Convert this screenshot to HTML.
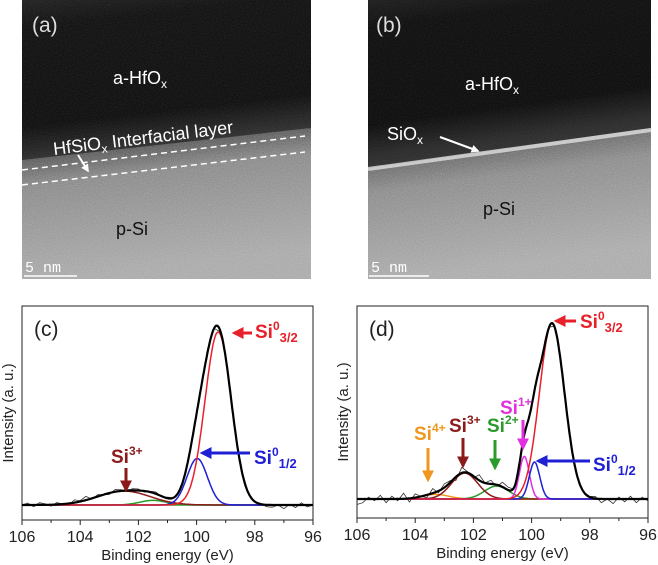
<!DOCTYPE html>
<html><head><meta charset="utf-8"><style>
html,body{margin:0;padding:0;background:#fff}
svg{display:block;font-family:"Liberation Sans",Arial,sans-serif}
</style></head><body>
<svg id="fig" width="658" height="565" viewBox="0 0 658 565" xmlns="http://www.w3.org/2000/svg">
<defs>
  <filter id="grain" x="0" y="0" width="100%" height="100%">
    <feTurbulence type="fractalNoise" baseFrequency="0.9" numOctaves="2" seed="3"/>
    <feColorMatrix type="matrix" values="0 0 0 0 1  0 0 0 0 1  0 0 0 0 1  0 0 0 0.7 -0.15"/>
  </filter>
  <linearGradient id="ga" x1="0" y1="0" x2="0.12" y2="1">
    <stop offset="0" stop-color="#3a3a3a"/><stop offset="0.1" stop-color="#141414"/>
    <stop offset="0.45" stop-color="#0e0e0e"/><stop offset="0.56" stop-color="#555"/>
    <stop offset="0.66" stop-color="#888"/><stop offset="1" stop-color="#a8a8a8"/>
  </linearGradient>
  <linearGradient id="gb" x1="0" y1="0" x2="0.14" y2="1">
    <stop offset="0" stop-color="#3a3a3a"/><stop offset="0.1" stop-color="#121212"/>
    <stop offset="0.44" stop-color="#0c0c0c"/><stop offset="0.55" stop-color="#5a5a5a"/>
    <stop offset="0.68" stop-color="#8a8a8a"/><stop offset="1" stop-color="#aaa"/>
  </linearGradient>
  <marker id="ah" viewBox="0 0 10 10" refX="8" refY="5" markerWidth="4" markerHeight="4" orient="auto"><path d="M0,0L10,5L0,10z" fill="context-stroke"/></marker>
</defs>

<g>
  <rect x="22" y="0" width="289" height="279" fill="url(#ga)"/>
  <rect x="22" y="0" width="289" height="279" filter="url(#grain)" opacity="0.45"/>
  <polygon points="22,0 311,0 311,128 22,160" fill="#0c0c0c" opacity="0.55"/>
  <line x1="22" y1="170" x2="305" y2="136" stroke="#fff" stroke-width="1.5" stroke-dasharray="6,4"/>
  <line x1="22" y1="185" x2="305" y2="152" stroke="#fff" stroke-width="1.5" stroke-dasharray="6,4"/>
  <text x="32" y="32" font-size="21" fill="#ddd">(a)</text>
  <text x="113" y="84" font-size="18" fill="#fff">a-HfO<tspan font-size="12" dy="4">x</tspan></text>
  <text x="54" y="155" font-size="18" fill="#fff" transform="rotate(-7 54 155)">HfSiO<tspan font-size="12" dy="4">x</tspan><tspan dy="-4"> Interfacial layer</tspan></text>
  <line x1="78" y1="155" x2="88" y2="171" stroke="#fff" stroke-width="2" marker-end="url(#ah)"/>
  <text x="116" y="235" font-size="18" fill="#111">p-Si</text>
  <text x="25" y="272" font-size="15" fill="#fff" font-family="Liberation Mono,monospace">5 nm</text>
  <line x1="24" y1="276" x2="77" y2="276" stroke="#fff" stroke-width="1.5"/>
</g>

<g>
  <rect x="368" y="0" width="283" height="279" fill="url(#gb)"/>
  <rect x="368" y="0" width="283" height="279" filter="url(#grain)" opacity="0.45"/>
  <polygon points="368,0 651,0 651,128 368,168" fill="#0b0b0b" opacity="0.6"/>
  <line x1="368" y1="169" x2="651" y2="130" stroke="#eee" stroke-width="4" opacity="0.7"/>
  <text x="376" y="32" font-size="21" fill="#ddd">(b)</text>
  <text x="465" y="90" font-size="18" fill="#fff">a-HfO<tspan font-size="12" dy="4">x</tspan></text>
  <text x="387" y="140" font-size="18" fill="#fff">SiO<tspan font-size="12" dy="4">x</tspan></text>
  <line x1="440" y1="137" x2="478" y2="151" stroke="#fff" stroke-width="2" marker-end="url(#ah)"/>
  <text x="483" y="215" font-size="18" fill="#111">p-Si</text>
  <text x="371" y="272" font-size="15" fill="#fff" font-family="Liberation Mono,monospace">5 nm</text>
  <line x1="369" y1="276" x2="429" y2="276" stroke="#fff" stroke-width="1.5"/>
</g>

<g id="pc"></g>
<g id="pd"></g>
</svg>
<script>
const tickLabels = [106, 104, 102, 100, 98, 96];
const cNames   = ["si0-3/2", "si0-1/2", "si3+", "si2+"];
const cCenters = [99.26, 99.98, 102.5, 101.5];
const cHeights = [0.93, 0.25, 0.075, 0.025];
const cWidths  = [0.45, 0.35, 0.9, 0.45];
const cColors  = ["#e8202a", "#1f1fd6", "#8b1a1a", "#2a9a2a"];
const cNoise = [0,.01,-.01,.012,.005,-.008,.01,.0,-.01,.015,.005,.02,-.005,.01,.0,-.008,.012,.006,-.004,.01,.008,-.006,.004,.01,-.004,.006,.0,-.008,.004,.0,.01,-.006,.008,.0,-.01,.02,-.01,.006,.01,-.004,.0,.004,-.01,-.012,.0,-.02,.004,-.014,.012,-.01,.0];
const dNames   = ["si0-3/2", "si0-1/2", "si1+", "si3+", "si2+", "si4+"];
const dCenters = [99.3, 99.9, 100.25, 102.3, 101.2, 103.3];
const dHeights = [0.95, 0.2, 0.23, 0.14, 0.07, 0.025];
const dWidths  = [0.43, 0.18, 0.17, 0.45, 0.42, 0.45];
const dColors  = ["#e8202a", "#1f1fd6", "#e030e0", "#8b1a1a", "#2a9a2a", "#f0961e"];
const dNoise = [-.03,-.02,.01,-.01,.02,-.02,.015,-.01,.03,-.02,.02,.0,-.015,.025,-.01,.02,.01,-.02,.03,.005,-.01,.03,.0,.02,-.01,.025,.015,-.01,.02,-.01,.0,.01,-.02,.0,.01,-.005,.01,-.01,.0,.0,.005,.01,-.02,.0,-.025,.01,-.015,.015,-.02,.01,-.01];

const NS = "http://www.w3.org/2000/svg";
function mk(p, tag, at) { const e = document.createElementNS(NS, tag); for (const k in at) e.setAttribute(k, at[k]); p.appendChild(e); return e; }
function gauss(x, c, h, w) { return h * Math.exp(-0.5 * ((x - c) / w) ** 2); }

function drawPanel(g, box, letter, centers, heights, widths, colors, names, noise) {
  const { x0, x1, top, bottom, base, scaleY } = box;
  const xS = e => x0 + (106 - e) / 10 * (x1 - x0);
  const yS = v => base - v * scaleY;
  const fr = mk(g, "rect", { x: x0, y: top, width: x1 - x0, height: bottom - top, fill: "none", stroke: "#222", "stroke-width": 1 });
  
  
  for (let e = 96; e <= 106; e += 1) {
    const t = mk(g, "line", { x1: xS(e), x2: xS(e), y1: bottom, y2: bottom + (e % 2 === 0 ? 5 : 3), stroke: "#222" });
    
    
  }
  tickLabels.forEach(v => {
    const t = mk(g, "text", { x: xS(v), y: bottom + 22, "font-size": 16, "text-anchor": "middle", fill: "#222" });
    t.textContent = v;
    
    
  });
  const xt = mk(g, "text", { x: (x0 + x1) / 2, y: bottom + 40, "font-size": 15, "text-anchor": "middle", fill: "#222" });
  xt.textContent = "Binding energy (eV)";
  
  
  const yc = (top + bottom) / 2;
  const yt = mk(g, "text", { x: x0 - 9, y: yc, "font-size": 15, "text-anchor": "middle", fill: "#222", transform: `rotate(-90 ${x0 - 9} ${yc})` });
  yt.textContent = "Intensity (a. u.)";
  
  
  const lt = mk(g, "text", { x: x0 + 12, y: top + 30, "font-size": 21, fill: "#222" });
  lt.textContent = "(" + letter + ")";
  
  
  const bl = mk(g, "line", { x1: x0, x2: x1, y1: base, y2: base, stroke: colors[colors.length - 1], "stroke-width": 1.5 });
  
  
  let raw = "";
  for (let i = 0; i < noise.length; i++) {
    const e = 106 - i * 0.2;
    let f = 0; for (let k = 0; k < centers.length; k++) f += gauss(e, centers[k], heights[k], widths[k]);
    raw += (i ? "L" : "M") + xS(e).toFixed(1) + "," + yS(f + noise[i]).toFixed(1);
  }
  const rp = mk(g, "path", { d: raw, fill: "none", stroke: "#333", "stroke-width": 0.8 });
  
  
  for (let k = centers.length - 1; k >= 0; k--) {
    let d = "";
    for (let i = 0; i <= 400; i++) { const e = 106 - i * 0.025; d += (i ? "L" : "M") + xS(e).toFixed(1) + "," + yS(gauss(e, centers[k], heights[k], widths[k])).toFixed(1); }
    const p = mk(g, "path", { d, fill: "none", stroke: colors[k], "stroke-width": 1.5 });
    
    
  }
  let d = "";
  for (let i = 0; i <= 400; i++) {
    const e = 106 - i * 0.025; let f = 0;
    for (let k = 0; k < centers.length; k++) f += gauss(e, centers[k], heights[k], widths[k]);
    d += (i ? "L" : "M") + xS(e).toFixed(1) + "," + yS(f).toFixed(1);
  }
  const fp = mk(g, "path", { d, fill: "none", stroke: "#000", "stroke-width": 2.2 });
  
  
}

function label(g, name, x, y, color, sup, sub, ax1, ay1, ax2, ay2) {
  const t = mk(g, "text", { x, y, "font-size": 19, "font-weight": "bold", fill: color });
  t.innerHTML = 'Si<tspan font-size="12" dy="-8">' + sup + '</tspan>' + (sub ? '<tspan font-size="13" dy="12">' + sub + '</tspan>' : '');
  
  
  const a = mk(g, "line", { x1: ax1, y1: ay1, x2: ax2, y2: ay2, stroke: color, "stroke-width": 3, "marker-end": "url(#ah)" });
  
  
}

const gc = document.getElementById("pc"), gd = document.getElementById("pd");
drawPanel(gc, { x0: 22, x1: 313, top: 306, bottom: 520, base: 505, scaleY: 186 }, "c", cCenters, cHeights, cWidths, cColors, cNames, cNoise);
drawPanel(gd, { x0: 357, x1: 648, top: 306, bottom: 518, base: 499, scaleY: 185 }, "d", dCenters, dHeights, dWidths, dColors, dNames, dNoise);

label(gc, "label-si0-3-2-c", 255, 338, "#e8202a", "0", "3/2", 252, 333, 234, 333);
label(gc, "label-si0-1-2-c", 254, 464, "#1f1fd6", "0", "1/2", 250, 453, 202, 453);
label(gc, "label-si3-c", 111, 463, "#8b1a1a", "3+", "", 126, 468, 126, 490);
label(gd, "label-si0-3-2-d", 580, 328, "#e8202a", "0", "3/2", 576, 321, 556, 321);
label(gd, "label-si0-1-2-d", 593, 471, "#1f1fd6", "0", "1/2", 590, 461, 538, 461);
label(gd, "label-si1-d", 500, 414, "#e030e0", "1+", "", 523, 420, 523, 448);
label(gd, "label-si3-d", 449, 432, "#8b1a1a", "3+", "", 463, 438, 463, 466);
label(gd, "label-si2-d", 487, 432, "#2a9a2a", "2+", "", 495, 440, 495, 468);
label(gd, "label-si4-d", 414, 440, "#f0961e", "4+", "", 428, 448, 428, 480);
</script>
</body></html>
